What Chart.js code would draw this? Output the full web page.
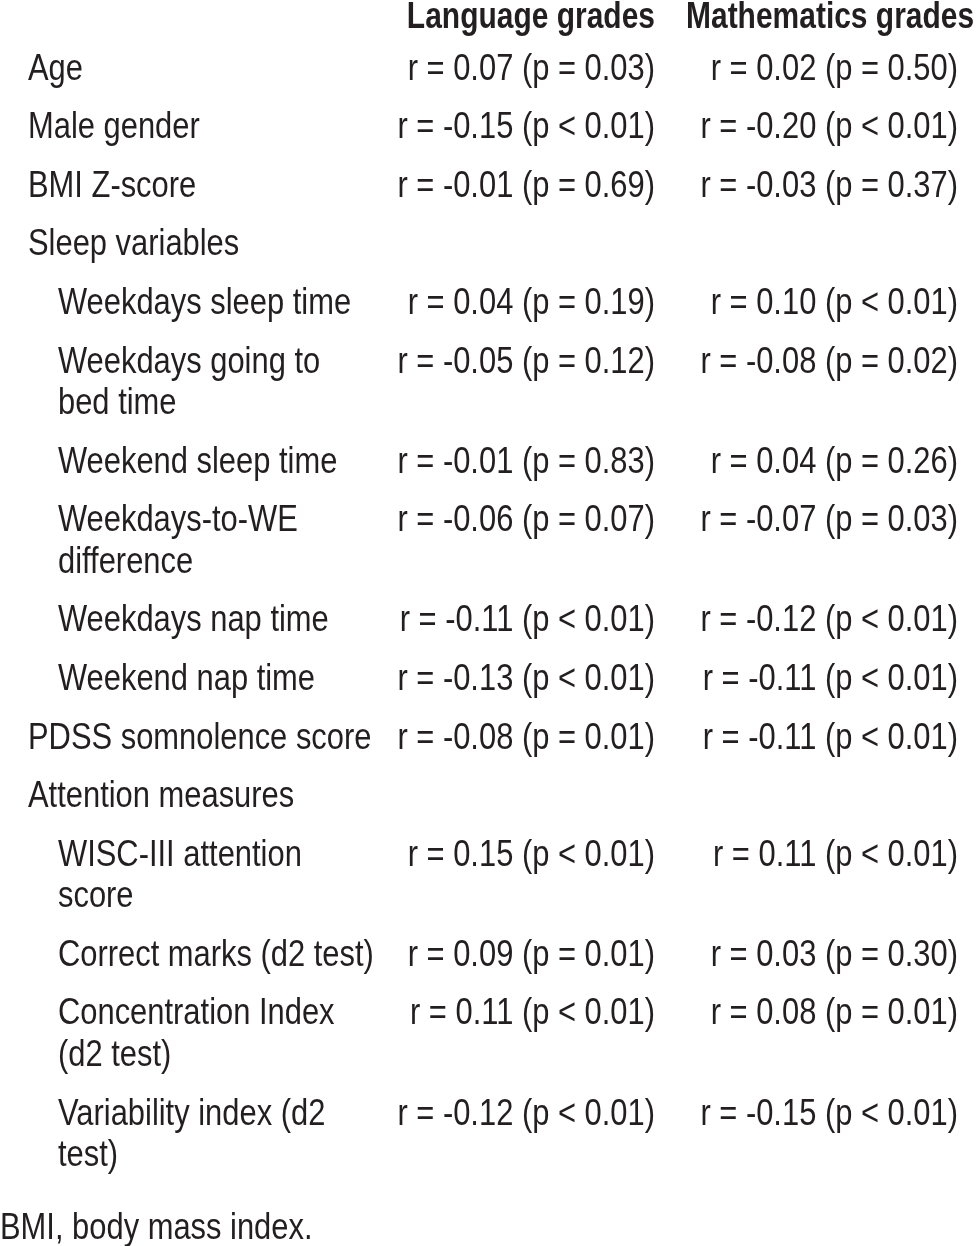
<!DOCTYPE html>
<html>
<head>
<meta charset="utf-8">
<script src="https://cdn.jsdelivr.net/npm/chart.js@4.4.1/dist/chart.umd.min.js"></script>
<style>
  html, body { margin: 0; padding: 0; background: #fff; }
  #wrap { width: 979px; height: 1246px; }
</style>
</head>
<body>
<div id="wrap"><canvas id="myChart" width="979" height="1246"></canvas></div>
<script>
const columnHeaders = ["Language grades", "Mathematics grades"];
const rowLabels = [
  "Age", "Male gender", "BMI Z-score", "Sleep variables",
  "Weekdays sleep time", "Weekdays going to\nbed time", "Weekend sleep time",
  "Weekdays-to-WE\ndifference", "Weekdays nap time", "Weekend nap time",
  "PDSS somnolence score", "Attention measures",
  "WISC-III attention\nscore", "Correct marks (d2 test)",
  "Concentration Index\n(d2 test)", "Variability index (d2\ntest)"
];
const rowIndent = [0, 0, 0, 0, 1, 1, 1, 1, 1, 1, 0, 0, 1, 1, 1, 1];
const languageR = [0.07, -0.15, -0.01, null, 0.04, -0.05, -0.01, -0.06, -0.11, -0.13, -0.08, null, 0.15, 0.09, 0.11, -0.12];
const languageP = ["= 0.03", "< 0.01", "= 0.69", null, "= 0.19", "= 0.12", "= 0.83", "= 0.07", "< 0.01", "< 0.01", "= 0.01", null, "< 0.01", "= 0.01", "< 0.01", "< 0.01"];
const mathR = [0.02, -0.20, -0.03, null, 0.10, -0.08, 0.04, -0.07, -0.12, -0.11, -0.11, null, 0.11, 0.03, 0.08, -0.15];
const mathP = ["= 0.50", "< 0.01", "= 0.37", null, "< 0.01", "= 0.02", "= 0.26", "= 0.03", "< 0.01", "< 0.01", "< 0.01", null, "< 0.01", "= 0.30", "= 0.01", "< 0.01"];
const footnote = "BMI, body mass index.";

// layout
const W = 979, H = 1246;
const headerY = 28, firstRowY = 79.5, lineH = 41.5, rowGap = 17.1, footGap = 73;
const labelX = 28, indentX = 58, langX = 655, mathX = 958, mathHeadX = 686;
const textColor = '#231f20';

// does the narrow face exist? otherwise squeeze the regular one
const probe = document.createElement('canvas').getContext('2d');
probe.font = '40px monospace';
const monoW = probe.measureText('Mathematics grades').width;
probe.font = '40px "Liberation Sans Narrow", monospace';
const hasNarrow = Math.abs(probe.measureText('Mathematics grades').width - monoW) > 1;
const family = hasNarrow ? '"Liberation Sans Narrow", "Arial Narrow"' : '"Liberation Sans", Arial';
const squeeze = hasNarrow ? 1.02 : 0.835;

const fmt = (r, p) => r === null ? '' : 'r = ' + r.toFixed(2) + ' (p ' + p + ')';

const rowY = [];
let y = firstRowY;
rowLabels.forEach((lab) => {
  rowY.push(y);
  const n = lab.split('\n').length;
  y += n * lineH + rowGap;
});
const footY = rowY[rowY.length - 1] + (rowLabels[rowLabels.length - 1].split('\n').length - 1) * lineH + footGap;

const cells = {
  labels: rowLabels.map((lab, i) => ({ x: rowIndent[i] ? indentX : labelX, y: rowY[i], text: lab, align: 'left' })),
  lang: rowLabels.map((_, i) => ({ x: langX, y: rowY[i], text: fmt(languageR[i], languageP[i]), align: 'right' })),
  math: rowLabels.map((_, i) => ({ x: mathX, y: rowY[i], text: fmt(mathR[i], mathP[i]), align: 'right' })),
  heads: [
    { x: langX, y: headerY, text: columnHeaders[0], align: 'right', bold: true },
    { x: mathHeadX, y: headerY, text: columnHeaders[1], align: 'left', bold: true }
  ],
  foot: [{ x: 0, y: footY, text: footnote, align: 'left' }]
};

const tableText = {
  id: 'tableText',
  afterDatasetsDraw(chart) {
    const ctx = chart.ctx;
    chart.data.datasets.forEach((ds, di) => {
      const meta = chart.getDatasetMeta(di);
      meta.data.forEach((pt, i) => {
        const c = ds.data[i];
        if (!c.text) return;
        ctx.save();
        ctx.fillStyle = textColor;
        ctx.font = (c.bold ? 'bold ' : '') + '37px ' + family;
        ctx.textBaseline = 'alphabetic';
        ctx.textAlign = c.align;
        ctx.translate(pt.x, pt.y);
        ctx.scale(c.bold ? squeeze * 0.97 : squeeze, 1);
        c.text.split('\n').forEach((ln, k) => ctx.fillText(ln, 0, k * lineH));
        ctx.restore();
      });
    });
  }
};

new Chart('myChart', {
  type: 'scatter',
  data: {
    datasets: Object.keys(cells).map((k) => ({ label: k, data: cells[k], pointRadius: 0, pointHoverRadius: 0 }))
  },
  options: {
    responsive: false,
    animation: false,
    events: [],
    layout: { padding: 0 },
    plugins: { legend: { display: false }, tooltip: { enabled: false } },
    scales: {
      x: { type: 'linear', min: 0, max: W, display: false },
      y: { type: 'linear', min: 0, max: H, reverse: true, display: false }
    }
  },
  plugins: [tableText]
});
</script>
</body>
</html>
